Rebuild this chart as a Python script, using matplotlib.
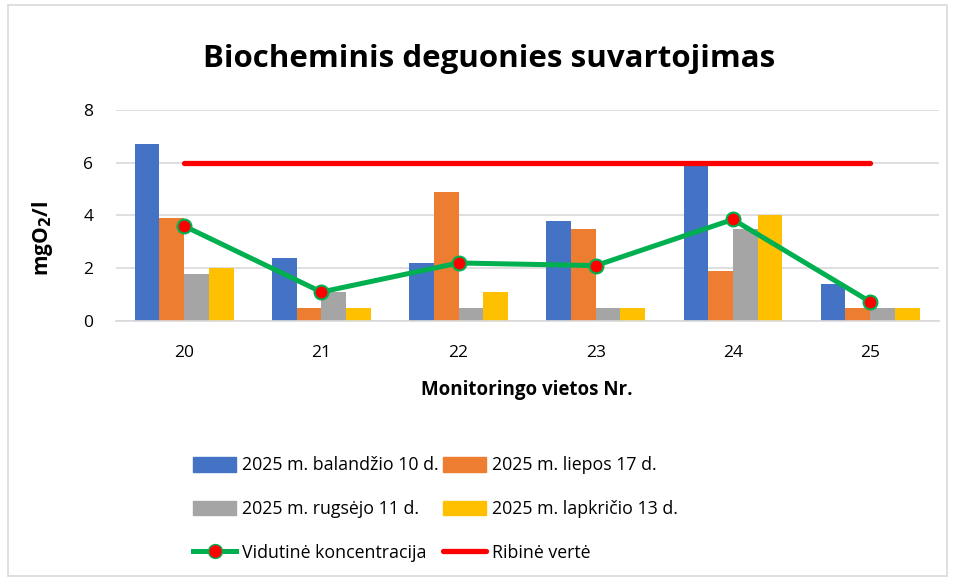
import matplotlib
matplotlib.use("Agg")
import matplotlib.pyplot as plt
import numpy as np
from matplotlib.patches import Rectangle, Patch
from matplotlib.lines import Line2D

plt.rcParams['font.family'] = ['Open Sans', 'DejaVu Sans']

categories = ['20', '21', '22', '23', '24', '25']
series_names = ['2025 m. balandžio 10 d.', '2025 m. liepos 17 d.',
                '2025 m. rugsėjo 11 d.', '2025 m. lapkričio 13 d.']
balandzio = [6.7, 2.4, 2.2, 3.8, 5.9, 1.4]
liepos = [3.9, 0.5, 4.9, 3.5, 1.9, 0.5]
rugsejo = [1.8, 1.1, 0.5, 0.5, 3.5, 0.5]
lapkricio = [2.0, 0.5, 1.1, 0.5, 4.0, 0.5]
vidutine = [3.6, 1.1, 2.2, 2.1, 3.85, 0.73]
ribine = [6, 6, 6, 6, 6, 6]
colors = ['#4472C4', '#ED7D31', '#A5A5A5', '#FFC000']

fig = plt.figure(figsize=(9.55, 5.81), dpi=100)
ax = fig.add_axes([0.121, 0.4475, 0.862, 0.3632])

x = np.arange(len(categories))
w = 0.18
for i, (vals, c) in enumerate(zip([balandzio, liepos, rugsejo, lapkricio], colors)):
    ax.bar(x + (i - 1.5) * w, vals, width=w, color=c, zorder=2)

ax.plot(x, ribine, color='#FF0000', lw=3.8, solid_capstyle='round', zorder=3)
ax.plot(x, vidutine, color='#00B050', lw=3.6, marker='o', markersize=10,
        markerfacecolor='#FF0000', markeredgecolor='#00B050', markeredgewidth=1.5, zorder=4)

ax.set_xlim(-0.5, len(categories) - 0.5)
ax.set_ylim(0, 8)
ax.set_yticks([0, 2, 4, 6, 8])
ax.set_xticks(x)
ax.set_xticklabels(categories)
ax.yaxis.grid(True, color='#D9D9D9', lw=1.2, zorder=0)
ax.set_axisbelow(True)
for s in ['top', 'right', 'left']:
    ax.spines[s].set_visible(False)
ax.spines['bottom'].set_color('#D9D9D9')
ax.spines['bottom'].set_linewidth(1.2)
ax.tick_params(axis='both', length=0, labelsize=12.5, colors='#000000')
ax.tick_params(axis='x', pad=17)
ax.tick_params(axis='y', pad=16)

ax.set_xlabel('Monitoringo vietos Nr.', fontsize=13.5, fontweight='bold', labelpad=14)
fig.text(0.044, 0.59, 'mgO$_\\mathbf{2}$/l', rotation=90, fontsize=15, fontweight='bold',
         ha='center', va='center')

fig.text(0.512, 0.898, 'Biocheminis deguonies suvartojimas', fontsize=22.5, fontweight='bold',
         ha='center', va='center')

handles = [Patch(color=colors[0]), Patch(color=colors[2]),
           Line2D([], [], color='#00B050', lw=3.6, marker='o', markersize=10,
                  markerfacecolor='#FF0000', markeredgecolor='#00B050'),
           Patch(color=colors[1]), Patch(color=colors[3]),
           Line2D([], [], color='#FF0000', lw=3.8, solid_capstyle='round')]
labels = [series_names[0], series_names[2], 'Vidutinė koncentracija',
          series_names[1], series_names[3], 'Ribinė vertė']
leg = fig.legend(handles, labels, ncol=2, loc='upper left', bbox_to_anchor=(0.193, 0.23),
                 frameon=False, fontsize=12.8, handlelength=2.4, handleheight=0.9,
                 handletextpad=0.35, columnspacing=0.25, labelspacing=1.45, borderpad=0)

fig.patches.append(Rectangle((0.008, 0.008), 0.984, 0.984, transform=fig.transFigure,
                             fill=False, edgecolor='#D9D9D9', lw=1.2))

fig.savefig('out.png', dpi=100)
